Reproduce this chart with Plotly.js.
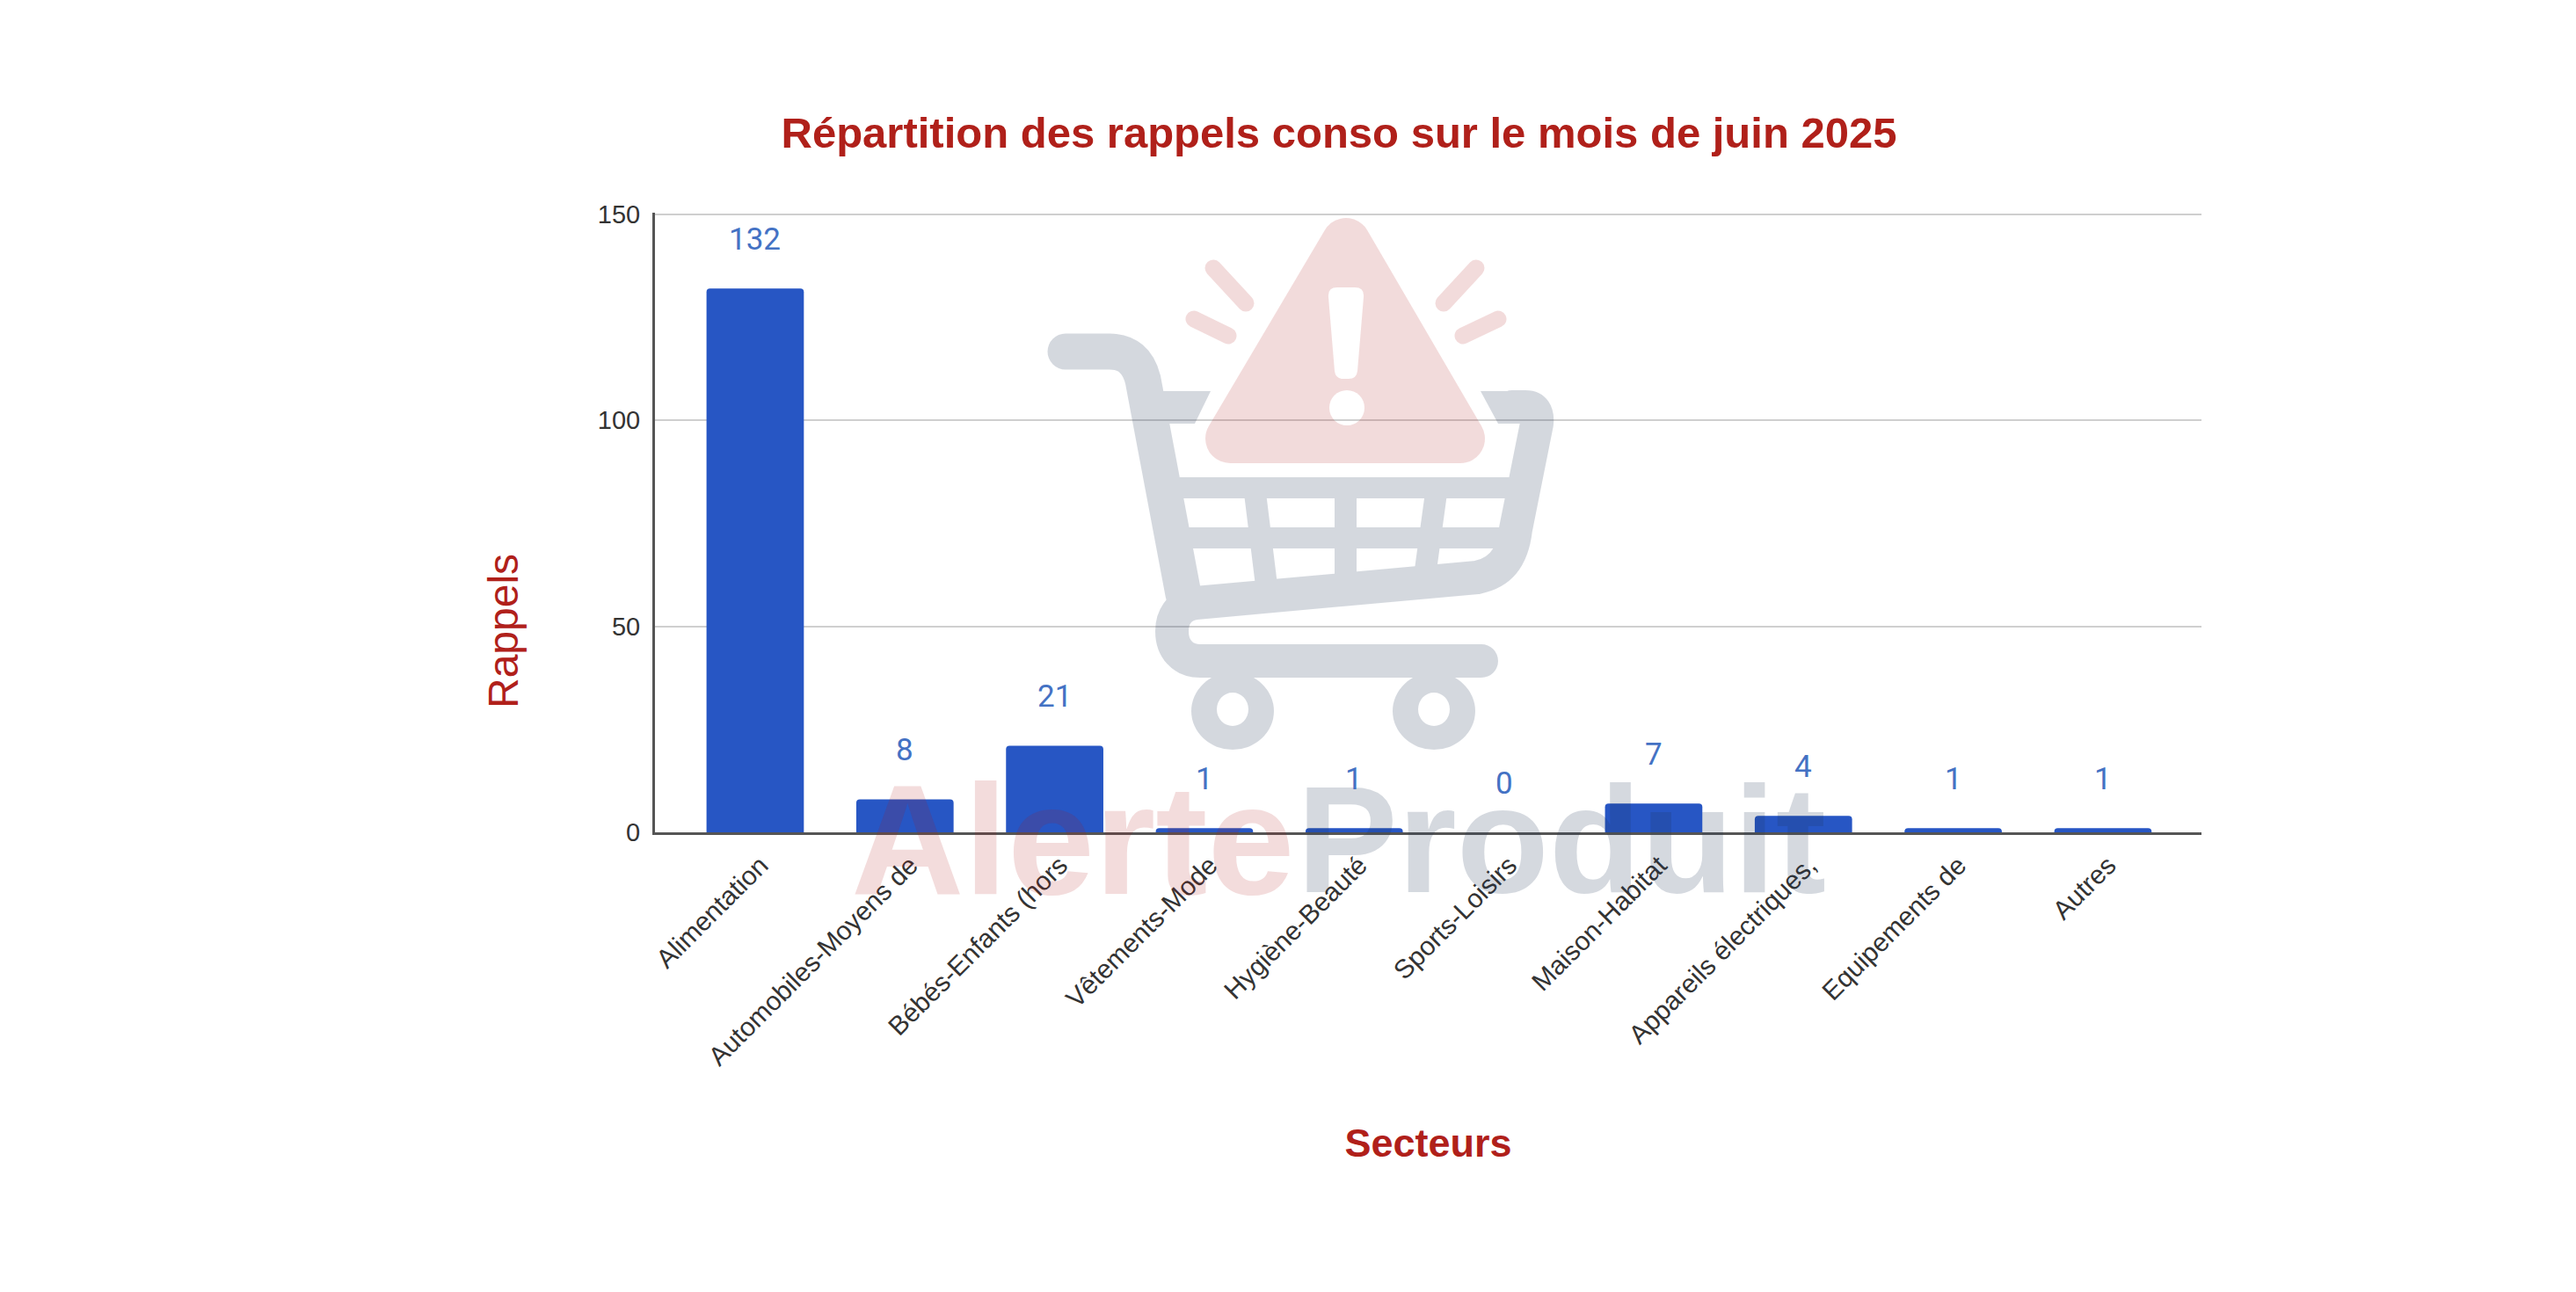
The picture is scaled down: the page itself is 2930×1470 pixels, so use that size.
<!DOCTYPE html>
<html><head><meta charset="utf-8">
<script src="https://cdn.plot.ly/plotly-3.0.1.min.js"></script>
<style>html,body{margin:0;padding:0;background:#fff}</style></head>
<body><div id="chart" style="width:2930px;height:1470px"></div>
<script>
const categories = ["Alimentation","Automobiles-Moyens de","Bébés-Enfants (hors","Vêtements-Mode","Hygiène-Beauté","Sports-Loisirs","Maison-Habitat","Appareils électriques,","Equipements de","Autres"];
const rappels = [132,8,21,1,1,0,7,4,1,1];
const yTicks = [0,50,100,150];
const titleText = "Répartition des rappels conso sur le mois de juin 2025";
const yTitle = "Rappels", xTitle = "Secteurs";
const wmRed = "Alerte", wmGrey = "Produit";
const RED = "#B0201A";
const GREY_INK = "#223757", RED_INK = "#AF1616";

const W=2930,H=1470,L=745,R=2504,T=242,B=947;
const pw=R-L,ph=B-T;
const px=x=>(x-L)/pw, py=y=>(B-y)/ph;

const ring=(cx,cy)=>`M${cx-47} ${cy}a47 44 0 1 0 94 0a47 44 0 1 0 -94 0ZM${cx-18} ${cy-2}a18 19 0 1 0 36 0a18 19 0 1 0 -36 0Z`;
// watermark logo, viewBox = page pixels
const logo = `<svg xmlns="http://www.w3.org/2000/svg" width="${W}" height="${H}" viewBox="0 0 ${W} ${H}">
<defs><mask id="m" maskUnits="userSpaceOnUse" x="0" y="0" width="${W}" height="${H}"><rect width="${W}" height="${H}" fill="#fff"/>
<path d="M1521 327H1541Q1552 327 1551 338L1544 422Q1543 431 1534 431H1528Q1519 431 1518 422L1511 338Q1510 327 1521 327Z" fill="#000"/>
<ellipse cx="1532" cy="464" rx="20" ry="20" fill="#000"/></mask></defs>
<g opacity="0.19">
<g fill="none" stroke="${GREY_INK}" stroke-linecap="round" stroke-linejoin="round">
<path stroke-width="41" d="M1212 400H1262Q1292 400 1300 432L1346 676"/>
<path stroke-width="38" d="M1685 752H1365C1345 752 1333 738 1333 718C1333 704 1340 688 1360 686L1680 657C1716 650 1722 620 1724 602L1748 482Q1750 463 1735 463H1720"/>
<path stroke-width="24" stroke-linecap="butt" d="M1340 555H1730M1350 612H1715"/>
<path stroke-width="25" stroke-linecap="butt" d="M1427 557L1441 670M1530.5 555V668M1634 557L1621 652"/>
</g>
<path fill="${GREY_INK}" fill-rule="evenodd" d="${ring(1402,809)}${ring(1631,809)}"/>
<path fill="${GREY_INK}" d="M1310 445H1377L1359 482H1310ZM1684 445H1725V482H1704Z"/>
</g>
<g opacity="0.15" mask="url(#m)">
<path d="M1531 276L1661 499H1399Z" fill="${RED_INK}" stroke="${RED_INK}" stroke-width="56" stroke-linejoin="round"/>
<path d="M1380 305L1417 345M1358 363L1397 382M1679 305L1642 345M1704 363L1664 382" fill="none" stroke="${RED_INK}" stroke-width="19" stroke-linecap="round"/>
</g>
</svg>`;

const valueLabels = categories.map((c,i)=>({
  x:c,y:rappels[i],xref:'x',yref:'y',text:String(rappels[i]),showarrow:false,yshift:56,
  yanchor:'middle',font:{family:'Roboto',size:35,color:'#4472C4'}
}));

const data=[{type:'bar',x:categories,y:rappels,width:0.65,marker:{color:'#2756C4',line:{width:0},cornerradius:4},hoverinfo:'none'}];
const layout={
  width:W,height:H,paper_bgcolor:'#fff',plot_bgcolor:'#fff',showlegend:false,
  margin:{l:L,r:W-R,t:T,b:H-B,pad:0},
  title:{text:`<b>${titleText}</b>`,font:{family:'Liberation Sans',size:49,color:RED},x:1523/W,xanchor:'center',y:1-151/H,yanchor:'middle'},
  xaxis:{type:'category',range:[-0.669,9.658],tickangle:-45,ticks:'',showgrid:false,automargin:false,ticklabelstandoff:5,ticklabelshift:6,
    tickfont:{family:'Liberation Sans',size:30,color:'#333'},showline:true,linecolor:'#555',linewidth:3,
    title:{text:`<b>${xTitle}</b>`,font:{family:'Liberation Sans',size:45,color:RED},standoff:68}},
  yaxis:{range:[0,150.43],tickmode:'array',tickvals:yTicks,ticktext:yTicks.map(String),ticks:'',showgrid:true,gridcolor:'#CFCFCF',gridwidth:2,
    zeroline:false,showline:true,linecolor:'#555',linewidth:3,automargin:false,ticklabelstandoff:8,
    tickfont:{family:'Liberation Sans',size:29,color:'#333'}},
  images:[{source:'data:image/svg+xml;charset=utf-8,'+encodeURIComponent(logo),xref:'paper',yref:'paper',
    x:-L/pw,y:1+T/ph,sizex:W/pw,sizey:H/ph,xanchor:'left',yanchor:'top',sizing:'stretch',layer:'above'}],
  annotations:[
    {xref:'paper',yref:'paper',x:px(1475),y:py(955),showarrow:false,xanchor:'right',yanchor:'middle',
     text:`<b>${wmRed}</b>`,font:{family:'Liberation Sans',size:178,color:'rgba(175,22,22,0.15)'}},
    {xref:'paper',yref:'paper',x:px(1473),y:py(955),showarrow:false,xanchor:'left',yanchor:'middle',
     text:`<b>${wmGrey}</b>`,font:{family:'Liberation Sans',size:172,color:'rgba(34,55,87,0.19)'}},
    {xref:'paper',yref:'paper',x:px(572),y:py(718),showarrow:false,textangle:-90,xanchor:'center',yanchor:'middle',
     text:yTitle,font:{family:'Liberation Sans',size:48,color:RED}},
    ...valueLabels
  ]
};
Plotly.newPlot('chart',data,layout,{displayModeBar:false,staticPlot:true});
</script></body></html>
